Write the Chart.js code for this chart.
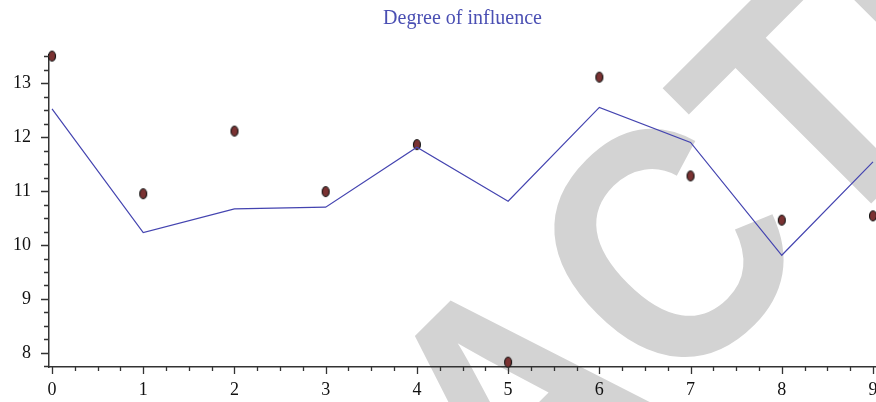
<!DOCTYPE html>
<html><head><meta charset="utf-8">
<script src="https://cdn.jsdelivr.net/npm/chart.js@4"></script>
<style>html,body{margin:0;padding:0;background:#fff;overflow:hidden;}</style>
</head><body>
<canvas id="c" width="876" height="402"></canvas>
<script>
// ---- data ----
const xValues = [0, 1, 2, 3, 4, 5, 6, 7, 8, 9];
const lineValues = [12.52, 10.23, 10.67, 10.70, 11.81, 10.81, 12.55, 11.90, 9.81, 11.54];
const pointValues = [13.50, 10.95, 12.11, 10.99, 11.86, 7.83, 13.11, 11.28, 10.46, 10.54];
const xTicks = [0, 1, 2, 3, 4, 5, 6, 7, 8, 9];
const yTicks = [8, 9, 10, 11, 12, 13];
const titleText = 'Degree of influence';
const watermarkText = 'RETRACTED';

function makeEllipse() {
  const c = document.createElement('canvas');
  c.width = 10; c.height = 13;
  const g = c.getContext('2d');
  g.beginPath();
  g.ellipse(5, 6.5, 3.5, 5, 0, 0, 2 * Math.PI);
  g.fillStyle = '#7a3232';
  g.fill();
  g.lineWidth = 1.1;
  g.strokeStyle = '#111';
  g.stroke();
  return c;
}

const watermark = {
  id: 'watermark',
  beforeDraw(chart) {
    const ctx = chart.ctx;
    ctx.save();
    ctx.rotate(-Math.PI / 4);
    ctx.font = 'bold 297px "Liberation Sans"';
    const wPre = ctx.measureText('RETR').width;
    const wA = ctx.measureText('A').width;
    const asc = ctx.measureText('T').actualBoundingBoxAscent;
    const k = 234 / asc;
    ctx.scale(1, k);
    ctx.fillStyle = '#d3d3d3';
    ctx.textBaseline = 'alphabetic';
    ctx.textAlign = 'left';
    const x0 = 81 - wA / 2 - wPre;
    ctx.fillText(watermarkText, x0, 526 / k + asc);
    ctx.restore();
  }
};

const minorTicks = {
  id: 'minorTicks',
  afterDraw(chart) {
    const ctx = chart.ctx;
    const xs = chart.scales.x, ys = chart.scales.y;
    const ca = chart.chartArea;
    ctx.save();
    ctx.strokeStyle = '#333';
    ctx.lineWidth = 1.3;
    ctx.beginPath();
    for (let i = Math.ceil(xs.min * 4); i <= Math.floor(xs.max * 4); i++) {
      const v = i / 4;
      const px = Math.round(xs.getPixelForValue(v)) + 0.5;
      const len = (i % 4 === 0) ? 7 : 4;
      ctx.moveTo(px, ca.bottom);
      ctx.lineTo(px, ca.bottom + len);
    }
    for (let i = Math.ceil(ys.min * 4); i <= Math.floor(ys.max * 4); i++) {
      const v = i / 4;
      const py = Math.round(ys.getPixelForValue(v)) + 0.5;
      const len = (i % 4 === 0) ? 8 : 5;
      ctx.moveTo(ca.left, py);
      ctx.lineTo(ca.left - len, py);
    }
    ctx.stroke();
    ctx.restore();
  }
};

const ellipse = makeEllipse();

new Chart(document.getElementById('c'), {
  type: 'scatter',
  data: {
    datasets: [
      {
        data: xValues.map((x, i) => ({ x, y: lineValues[i] })),
        showLine: true,
        borderColor: '#4444b0',
        borderWidth: 1.2,
        pointRadius: 0,
        tension: 0,
        clip: false
      },
      {
        data: xValues.map((x, i) => ({ x, y: pointValues[i] })),
        showLine: false,
        pointStyle: ellipse,
        pointRadius: 5,
        clip: false
      }
    ]
  },
  options: {
    responsive: false,
    animation: false,
    events: [],
    layout: { padding: 0, autoPadding: false },
    plugins: {
      legend: { display: false },
      tooltip: { enabled: false },
      title: {
        display: true,
        text: titleText,
        fullSize: false,
        color: '#4a4fb3',
        font: { family: '"Liberation Serif"', size: 20, weight: 'normal', lineHeight: 1.2 },
        padding: { top: 7, bottom: 24 }
      }
    },
    scales: {
      x: {
        type: 'linear',
        min: -0.033,
        max: 9.033,
        afterBuildTicks: s => { s.ticks = xTicks.map(v => ({ value: v })); },
        afterFit: s => { s.height = 35; s.paddingLeft = 0; s.paddingRight = 0; },
        grid: { display: true, drawOnChartArea: false, drawTicks: true, tickLength: 7, color: 'rgba(0,0,0,0)' },
        border: { display: true, color: '#333', width: 1.5 },
        ticks: {
          font: { family: '"Liberation Serif"', size: 18 },
          color: '#111',
          padding: 5,
          maxRotation: 0,
          autoSkip: false,
          callback: v => String(v)
        }
      },
      y: {
        type: 'linear',
        min: 7.74,
        max: 13.52,
        afterBuildTicks: s => { s.ticks = yTicks.map(v => ({ value: v })); },
        afterFit: s => { s.width = 49; s.paddingTop = 0; s.paddingBottom = 0; },
        grid: { display: true, drawOnChartArea: false, drawTicks: true, tickLength: 8, color: 'rgba(0,0,0,0)' },
        border: { display: true, color: '#333', width: 1.5 },
        ticks: {
          font: { family: '"Liberation Serif"', size: 18 },
          color: '#111',
          padding: 10,
          autoSkip: false,
          callback: v => String(v)
        }
      }
    }
  },
  plugins: [watermark, minorTicks]
});
</script>
</body></html>
